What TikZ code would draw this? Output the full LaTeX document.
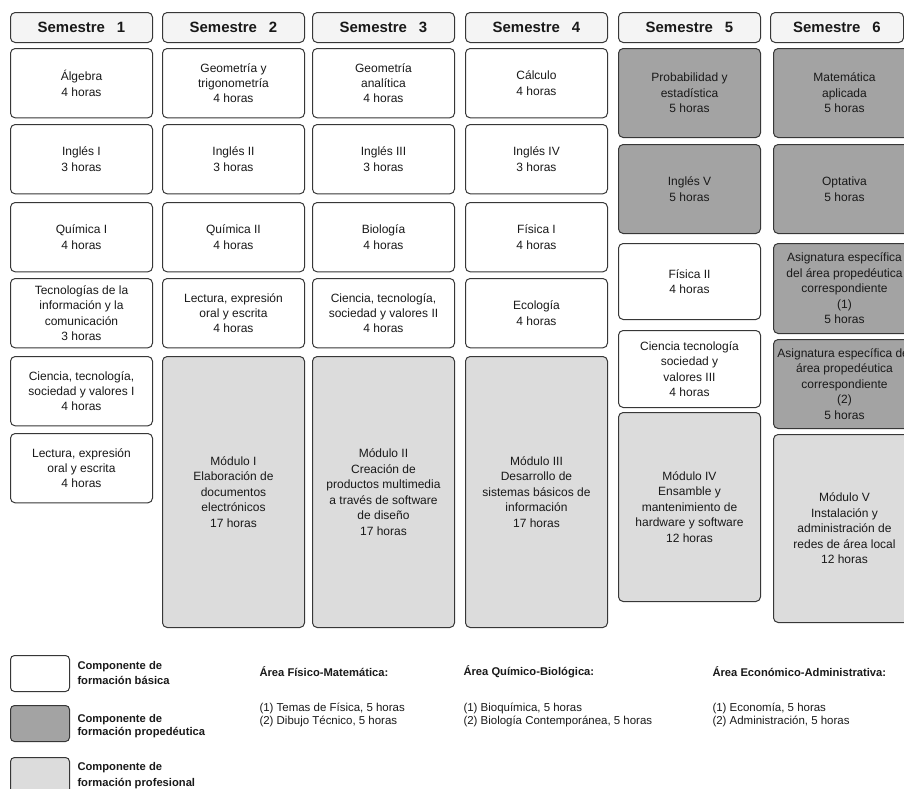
\documentclass[tikz,border=0pt]{standalone}
\usepackage{fontspec}
\setmainfont{Liberation Sans}
\definecolor{borde}{RGB}{55,55,55}
\definecolor{grisencab}{RGB}{244,244,244}
\definecolor{grisoscuro}{RGB}{163,163,163}
\definecolor{grisclaro}{RGB}{220,220,220}
\definecolor{texto}{RGB}{25,25,25}

\tikzset{every picture/.style={line width=0.75pt}}
\tikzset{
  caja/.style={draw=borde, rounded corners=3.5pt, anchor=north west, inner sep=0pt,
    align=center, text=texto, minimum width=106.5pt, font=\fontsize{9}{11.6}\selectfont},
  basica/.style={caja, fill=white},
  propedeutica/.style={caja, fill=grisoscuro},
  profesional/.style={caja, fill=grisclaro},
  encabezado/.style={caja, fill=grisencab, minimum height=22.5pt, font=\bfseries\fontsize{11.2}{13}\selectfont},
  muestra/.style={draw=borde, rounded corners=3pt, anchor=north west, minimum width=44.25pt, minimum height=27pt},
  leyenda/.style={anchor=west, align=left, inner sep=0pt, text=texto, font=\bfseries\fontsize{8.4}{11.5}\selectfont},
  area/.style={anchor=west, inner sep=0pt, text=texto, font=\bfseries\fontsize{8.4}{10}\selectfont},
  opciones/.style={anchor=west, align=left, inner sep=0pt, text=texto, font=\fontsize{8.6}{9.8}\selectfont}
}

\begin{document}
\begin{tikzpicture}[x=0.75pt,y=0.75pt,yscale=-1,xscale=1]
\useasboundingbox (0,0) rectangle (904,789);

% Encabezados
\node (sem1) [encabezado] at (10,12) {Semestre\hspace{9pt}1};
\node (sem2) [encabezado] at (162,12) {Semestre\hspace{9pt}2};
\node (sem3) [encabezado] at (312,12) {Semestre\hspace{9pt}3};
\node (sem4) [encabezado] at (465,12) {Semestre\hspace{9pt}4};
\node (sem5) [encabezado] at (618,12) {Semestre\hspace{9pt}5};
\node (sem6) [encabezado, minimum width=99.75pt] at (770,12) {Semestre\hspace{9pt}6};

% Semestre 1
\node (algebra) [basica, minimum height=52pt] at (10,48) {Álgebra\\4 horas};
\node (inglesI) [basica, minimum height=52pt] at (10,124) {Inglés I\\3 horas};
\node (quimicaI) [basica, minimum height=52pt] at (10,202) {Química I\\4 horas};
\node (tic) [basica, minimum height=52pt] at (10,278) {Tecnologías de la\\información y la\\comunicación\\3 horas};
\node (ctsvI) [basica, minimum height=52pt] at (10,356) {Ciencia, tecnología,\\sociedad y valores I\\4 horas};
\node (lectura1) [basica, minimum height=52pt] at (10,433) {Lectura, expresión\\oral y escrita\\4 horas};

% Semestre 2
\node (geotrig) [basica, minimum height=52pt] at (162,48) {Geometría y\\trigonometría\\4 horas};
\node (inglesII) [basica, minimum height=52pt] at (162,124) {Inglés II\\3 horas};
\node (quimicaII) [basica, minimum height=52pt] at (162,202) {Química II\\4 horas};
\node (lectura2) [basica, minimum height=52pt] at (162,278) {Lectura, expresión\\oral y escrita\\4 horas};
\node (moduloI) [profesional, minimum height=203.25pt] at (162,356) {Módulo I\\Elaboración de\\documentos\\electrónicos\\17 horas};

% Semestre 3
\node (geoanal) [basica, minimum height=52pt] at (312,48) {Geometría\\analítica\\4 horas};
\node (inglesIII) [basica, minimum height=52pt] at (312,124) {Inglés III\\3 horas};
\node (biologia) [basica, minimum height=52pt] at (312,202) {Biología\\4 horas};
\node (ctsvII) [basica, minimum height=52pt] at (312,278) {Ciencia, tecnología,\\sociedad y valores II\\4 horas};
\node (moduloII) [profesional, minimum height=203.25pt] at (312,356) {Módulo II\\Creación de\\productos multimedia\\a través de software\\de diseño\\17 horas};

% Semestre 4
\node (calculo) [basica, minimum height=52pt] at (465,48) {Cálculo\\4 horas};
\node (inglesIV) [basica, minimum height=52pt] at (465,124) {Inglés IV\\3 horas};
\node (fisicaI) [basica, minimum height=52pt] at (465,202) {Física I\\4 horas};
\node (ecologia) [basica, minimum height=52pt] at (465,278) {Ecología\\4 horas};
\node (moduloIII) [profesional, minimum height=203.25pt] at (465,356) {Módulo III\\Desarrollo de\\sistemas básicos de\\información\\17 horas};

% Semestre 5
\node (probest) [propedeutica, minimum height=66.75pt] at (618,48) {Probabilidad y\\estadística\\5 horas};
\node (inglesV) [propedeutica, minimum height=66.75pt] at (618,144) {Inglés V\\5 horas};
\node (fisicaII) [basica, minimum height=57pt] at (618,243) {Física II\\4 horas};
\node (ctsvIII) [basica, minimum height=57.75pt] at (618,330) {Ciencia tecnología\\sociedad y\\valores III\\4 horas};
\node (moduloIV) [profesional, minimum height=141.75pt] at (618,412) {Módulo IV\\Ensamble y\\mantenimiento de\\hardware y software\\12 horas};

% Semestre 6
\node (matapl) [propedeutica, minimum height=66.75pt] at (773,48) {Matemática\\aplicada\\5 horas};
\node (optativa) [propedeutica, minimum height=66.75pt] at (773,144) {Optativa\\5 horas};
\node (asig1) [propedeutica, minimum height=67.5pt] at (773,243) {Asignatura específica\\del área propedéutica\\correspondiente\\(1)\\5 horas};
\node (asig2) [propedeutica, minimum height=66.75pt] at (773,339) {Asignatura específica del\\área propedéutica\\correspondiente\\(2)\\5 horas};
\node (moduloV) [profesional, minimum height=141pt] at (773,434) {Módulo V\\Instalación y\\administración de\\redes de área local\\12 horas};

% Leyenda
\node (mbasica) [muestra, fill=white] at (10,655) {};
\node (mprope) [muestra, fill=grisoscuro] at (10,705) {};
\node (mprof) [muestra, fill=grisclaro] at (10,757) {};
\node (lbasica) [leyenda] at (77,673) {Componente de\\formación básica};
\node (lprope) [leyenda, font=\bfseries\fontsize{8.4}{9.4}\selectfont] at (77,726) {Componente de\\formación propedéutica};
\node (lprof) [leyenda] at (77,775.5) {Componente de\\formación profesional};

% Areas propedeuticas
\node (afm) [area] at (259,672) {Área Físico-Matemática:};
\node (ofm) [opciones] at (259,714.5) {(1) Temas de Física, 5 horas\\(2) Dibujo Técnico, 5 horas};
\node (aqb) [area] at (463,672) {Área Químico-Biológica:};
\node (oqb) [opciones] at (463,714.5) {(1) Bioquímica, 5 horas\\(2) Biología Contemporánea, 5 horas};
\node (aea) [area] at (712,672) {Área Económico-Administrativa:};
\node (oea) [opciones] at (712,714.5) {(1) Economía, 5 horas\\(2) Administración, 5 horas};

\end{tikzpicture}
\end{document}
